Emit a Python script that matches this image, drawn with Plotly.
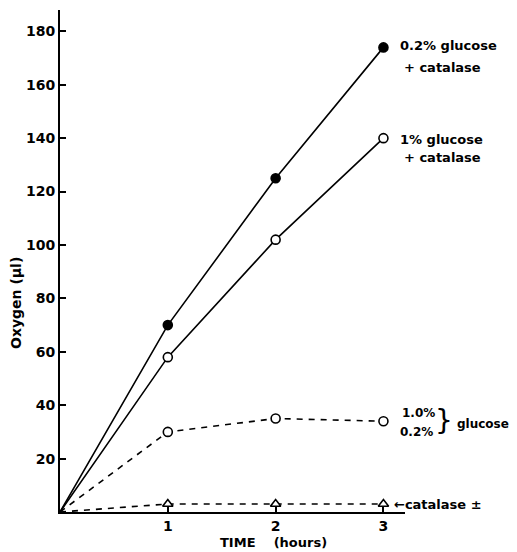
import plotly.graph_objects as go

hours = [0, 1, 2, 3]
glc02_cat = [0, 70, 125, 174]
glc1_cat = [0, 58, 102, 140]
glucose_only = [0, 30, 35, 34]
catalase_only = [0, 3, 3, 3]

y_ticks = [20, 40, 60, 80, 100, 120, 140, 160, 180]
x_ticks = [1, 2, 3]

FONT = "DejaVu Sans"
OFF = 8  # page body margin
fig = go.Figure()

def add(y, dash, symbol, fill):
    fig.add_trace(go.Scatter(
        x=hours, y=y, mode="lines",
        line=dict(color="black", width=1.6, dash=dash),
        showlegend=False, hoverinfo="skip"))
    fig.add_trace(go.Scatter(
        x=hours[1:], y=y[1:], mode="markers",
        marker=dict(symbol=symbol, size=9, color=fill,
                    line=dict(color="black", width=1.6)),
        showlegend=False, hoverinfo="skip"))

add(glc02_cat, "solid", "circle", "black")
add(glc1_cat, "solid", "circle", "white")
add(glucose_only, "6px,6px", "circle", "white")
add(catalase_only, "6px,6px", "triangle-up", "white")

# plot area in page pixels: x 60..405, y 10..512
L, R, T, B = 60, 405, 10, 512
fig.update_layout(
    width=517 - OFF, height=552 - OFF,
    margin=dict(l=L - OFF, r=517 - R, t=T - OFF, b=552 - B),
    plot_bgcolor="white", paper_bgcolor="white",
    font=dict(family=FONT, size=14, color="black"),
    xaxis=dict(range=[0, 3.2], tickvals=x_ticks,
               ticktext=["<b>%d</b>" % v for v in x_ticks],
               showgrid=False, zeroline=False, showline=True, linecolor="black",
               linewidth=2, ticks="inside", ticklen=6, tickwidth=1.5,
               tickcolor="black", tickfont=dict(family=FONT, size=14)),
    yaxis=dict(range=[0, 188], tickvals=y_ticks,
               ticktext=["<b>%d</b>" % v for v in y_ticks],
               showgrid=False, zeroline=False, showline=True, linecolor="black",
               linewidth=2, ticks="inside", ticklen=6, tickwidth=1.5,
               tickcolor="black", tickfont=dict(family=FONT, size=14)),
)

W, H = R - L, B - T
def px(xp, yp):
    return (xp - L) / W, (B - yp) / H

def note(xp, yp, text, size=13, xanchor="left", angle=0):
    x, y = px(xp, yp)
    fig.add_annotation(x=x, y=y, xref="paper", yref="paper", text=text,
                       showarrow=False, xanchor=xanchor, yanchor="middle",
                       textangle=angle,
                       font=dict(family=FONT, size=size, color="black"))

note(398, 45, "<b>0.2% glucose</b>")
note(402, 67, "<b>+ catalase</b>")
note(398, 139, "<b>1% glucose</b>")
note(402, 158, "<b>+ catalase</b>")
note(400, 413, "<b>1.0%</b>", size=12)
note(398, 432, "<b>0.2%</b>", size=12)
note(444, 421, "}", size=28, xanchor="center")
note(455, 424, "<b>glucose</b>", size=12)
note(392, 504, "<b>\u2190catalase \u00b1</b>")

note(16, 303, "<b>Oxygen (\u03bcl)</b>", size=14, xanchor="center", angle=-90)
note(273, 542, "<b>TIME&nbsp;&nbsp;&nbsp;&nbsp;(hours)</b>", size=13, xanchor="center")

fig.write_html("out.html")
